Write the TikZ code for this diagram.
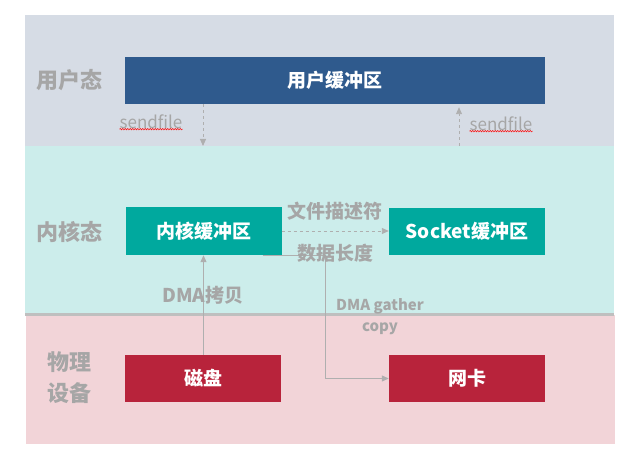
\documentclass[tikz,border=0pt]{standalone}
\usepackage{fontspec}
\setmainfont{Noto Sans CJK SC}
\usetikzlibrary{arrows.meta,positioning,decorations.pathmorphing}
\definecolor{userbg}{HTML}{D6DCE5}\definecolor{kernbg}{HTML}{CCEDEB}\definecolor{physbg}{HTML}{F2D4D8}
\definecolor{userfill}{HTML}{2F5A8D}\definecolor{kernfill}{HTML}{00A99E}\definecolor{physfill}{HTML}{B8233B}
\definecolor{txtgray}{HTML}{A6A6A6}\definecolor{linegray}{HTML}{AFAFAF}
\tikzset{buf/.style={inner sep=0pt,text=white,font=\bfseries\fontsize{19}{22}\selectfont,minimum width=156pt,minimum height=47pt},
  lay/.style={text=txtgray,font=\bfseries\fontsize{22}{31}\selectfont,align=center},
  lbl/.style={text=txtgray,font=\bfseries\fontsize{19}{22}\selectfont,inner sep=0pt},
  sf/.style={text=txtgray,font=\fontsize{17}{20}\selectfont,inner sep=0pt},
  darr/.style={draw=linegray,dashed,line width=0.9pt,-{Triangle[length=7pt,width=6pt]}},
  sarr/.style={draw=linegray,line width=1pt,-{Triangle[length=7pt,width=6pt]}},
  wavy/.style={draw=red,line width=0.5pt,decorate,decoration={snake,amplitude=0.7pt,segment length=2.5pt}}}
\begin{document}
\begin{tikzpicture}[x=1pt,y=-1pt]
\useasboundingbox(0,0)rectangle(630,460);
\fill[userbg](25,15)rectangle(614,146);\fill[kernbg](25,146)rectangle(614,315);\fill[physbg](26,315)rectangle(615,444);
\draw[line width=3pt,draw=gray!50](25,314.5)--(614,314.5);
% buffers
\node[buf,fill=userfill,minimum width=420pt](user)at(335,80.5){用户缓冲区};
\node[buf,fill=kernfill,minimum height=48pt](kern)at(203.5,231){内核缓冲区};
\node[buf,fill=kernfill](sock)at(467,231){Socket缓冲区};
\node[buf,fill=physfill](disk)at(203,378.5){磁盘};
\node[buf,fill=physfill](nic)at(467,378.5){网卡};
% layers
\node[lay](lu)at(69,80){用户态};\node[lay](lk)at(69,232){内核态};\node[lay](lp)at(69.5,378){物理\\设备};
% arrows
\coordinate(s1)at(203,146);\coordinate(s2)at(459,146);
\draw[darr](user.south-|s1)--(s1);\draw[darr,shorten >=3pt](s2)--(user.south-|s2);
\draw[darr](kern.east)--(sock.west);
\draw[sarr](disk.north-|kern)--(kern.south);
\draw[sarr]([xshift=-19pt]kern.south east)--++(63,0)|-(nic.west);
% labels
\node[sf](sf1)at(151,122){sendfile};\node[sf](sf2)at(501,124){sendfile};
\draw[wavy](sf1.south west)--(sf1.south east);\draw[wavy](sf2.south west)--(sf2.south east);
\node[lbl](fd)at(335,211){文件描述符};\node[lbl](len)at(335,253){数据长度};
\node[lbl](dma)at(203,295){DMA拷贝};
\node[lbl,font=\bfseries\fontsize{15}{21}\selectfont,align=center](gat)at(380,316.5){DMA gather\\copy};
\end{tikzpicture}
\end{document}
